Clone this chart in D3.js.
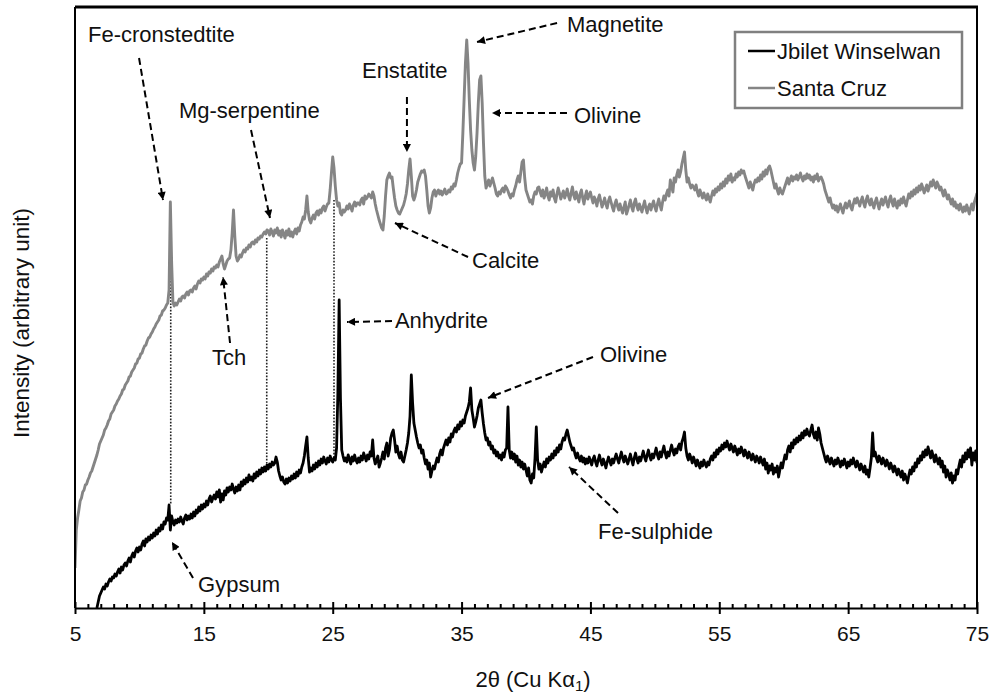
<!DOCTYPE html>
<html>
<head>
<meta charset="utf-8">
<script src="https://cdn.jsdelivr.net/npm/d3@7"></script>
<style>
  body { margin: 0; background: #fff; }
  svg text { font-family: "Liberation Sans", Arial, Helvetica, sans-serif; fill: #111; }
</style>
</head>
<body>
<svg id="chart" width="990" height="695"></svg>
<script>
// ---- Diffraction patterns (2θ sampled every 0.1°, intensity in arbitrary units) ----
const stepDeg = 0.1;
const santaCruzStart = 5.0;
const jbiletStart = 6.7;

const santaCruz = [
  40, 78, 90, 98, 107, 110, 116, 118, 123, 124,
  128, 131, 135, 137, 141, 145, 149, 153, 158, 164,
  167, 170, 173, 178, 180, 183, 187, 189, 194, 196,
  198, 202, 204, 207, 209, 212, 214, 218, 219, 223,
  225, 227, 231, 232, 236, 238, 240, 244, 245, 249,
  250, 254, 255, 259, 262, 263, 267, 270, 271, 274,
  276, 279, 281, 284, 286, 288, 292, 293, 297, 298,
  300, 303, 305, 318, 406, 345, 306, 302, 305, 303,
  306, 309, 307, 311, 312, 310, 314, 316, 313, 317,
  318, 316, 320, 322, 319, 324, 327, 325, 329, 328,
  331, 329, 334, 332, 336, 335, 339, 337, 341, 340,
  343, 341, 346, 349, 352, 344, 339, 343, 347, 349,
  350, 358, 375, 398, 372, 352, 347, 349, 353, 351,
  355, 358, 356, 360, 359, 363, 361, 365, 366, 364,
  368, 366, 370, 369, 372, 371, 374, 376, 374, 378,
  377, 373, 379, 376, 372, 378, 375, 380, 373, 377,
  371, 378, 374, 370, 377, 373, 379, 372, 376, 371,
  376, 379, 374, 380, 377, 383, 386, 391, 389, 398,
  412, 396, 388, 385, 390, 393, 389, 395, 397, 393,
  398, 395, 400, 402, 397, 401, 404, 405, 418, 435,
  451, 440, 422, 408, 402, 405, 395, 393, 398, 396,
  398, 402, 399, 404, 401, 397, 403, 406, 402, 405,
  405, 403, 408, 410, 404, 412, 409, 411, 414, 412,
  410, 416, 412, 404, 398, 393, 388, 384, 380, 378,
  392, 412, 428, 432, 435, 430, 431, 420, 410, 402,
  398, 395, 394, 397, 400, 403, 408, 414, 424, 438,
  449, 432, 412, 408, 412, 418, 426, 430, 434, 437,
  436, 438, 432, 418, 402, 395, 400, 410, 416, 418,
  412, 416, 418, 414, 417, 413, 416, 419, 414, 415,
  418, 416, 421, 419, 424, 422, 428, 435, 440, 444,
  445, 475, 510, 545, 568, 545, 508, 478, 458, 445,
  438, 452, 475, 505, 528, 532, 505, 465, 432, 420,
  424, 428, 422, 426, 430, 425, 420, 414, 412, 416,
  414, 418, 420, 416, 422, 420, 417, 413, 410, 414,
  412, 418, 422, 428, 432, 426, 436, 446, 448, 430,
  418, 414, 410, 406, 408, 404, 412, 416, 414, 420,
  421, 416, 412, 418, 410, 414, 420, 412, 408, 416,
  412, 418, 410, 406, 414, 420, 415, 409, 413, 417,
  410, 414, 419, 412, 408, 415, 421, 413, 409, 416,
  411, 406, 414, 418, 410, 404, 412, 417, 409, 413,
  416, 410, 405, 411, 408, 402, 409, 413, 407, 401,
  405, 410, 404, 400, 407, 411, 406, 401, 397, 404,
  408, 402, 398, 404, 399, 395, 401, 406, 394, 398,
  403, 408, 401, 397, 405, 409, 402, 398, 404, 400,
  396, 402, 407, 400, 395, 401, 404, 398, 403, 407,
  401, 397, 404, 409, 403, 398, 406, 412, 408, 414,
  418, 412, 428, 422, 416, 430, 426, 433, 438, 431,
  436, 444, 450, 456, 438, 426, 430, 424, 420, 423,
  421, 418, 423, 416, 412, 418, 414, 410, 415, 411,
  408, 414, 410, 406, 412, 417, 413, 419, 416, 421,
  418, 424, 420, 426, 422, 429, 425, 432, 428, 434,
  426, 430, 428, 434, 431, 436, 433, 438, 435, 437,
  432, 428, 424, 420, 426, 422, 418, 424, 428, 426,
  430, 427, 433, 429, 436, 432, 438, 434, 440, 442,
  438, 432, 426, 420, 424, 418, 414, 420, 416, 414,
  418, 422, 426, 430, 424, 428, 432, 427, 431, 429,
  433, 428, 431, 435, 430, 427, 432, 429, 434, 430,
  433, 428, 431, 426, 432, 429, 434, 427, 430, 431,
  428, 424, 418, 414, 410, 406, 410, 404, 400, 403,
  398, 402, 396, 400, 404, 399, 395, 401, 405, 400,
  403, 407, 401, 398, 404, 409, 405, 410, 406, 402,
  407, 411, 405, 401, 408, 412, 406, 403, 409, 404,
  400, 406, 410, 404, 399, 405, 409, 403, 407, 411,
  405, 401, 408, 412, 406, 402, 409, 404, 400, 407,
  403, 409, 405, 411, 406, 402, 408, 414, 410, 416,
  412, 418, 414, 420, 416, 422, 418, 424, 420, 415,
  419, 423, 417, 421, 426, 422, 428, 424, 420, 426,
  423, 418, 421, 416, 412, 418, 414, 409, 413, 408,
  404, 409, 402, 406, 400, 403, 398, 404, 400, 396,
  401, 397, 403, 399, 394, 400, 404, 398, 406, 410,
  415
];

const jbiletWinselwan = [
  0, 6, 12,
  15, 18, 21, 19, 24, 22, 26, 29, 27, 31,
  30, 34, 32, 36, 39, 35, 41, 38, 43, 45,
  42, 47, 50, 46, 52, 55, 51, 57, 60, 56,
  61, 58, 64, 67, 62, 69, 66, 71, 68, 73,
  70, 75, 72, 78, 74, 80, 77, 83, 79, 86,
  84, 90, 88, 103, 78, 92, 86, 83, 88, 85,
  89, 86, 91, 87, 84, 90, 93, 88, 92, 89,
  94, 90, 96, 92, 98, 95, 101, 97, 103, 99,
  104, 101, 107, 103, 109, 112, 106, 110, 113, 109,
  116, 111, 118, 106, 114, 108, 117, 113, 120, 116,
  121, 118, 124, 119, 115, 121, 117, 123, 118, 126,
  122, 128, 124, 130, 126, 133, 128, 131, 127, 134,
  130, 136, 132, 138, 134, 140, 136, 141, 137, 143,
  139, 144, 141, 146, 143, 145, 151, 146, 137, 132,
  128, 131, 126, 124, 129, 125, 130, 127, 132, 129,
  134, 130, 136, 132, 138, 135, 141, 145, 152, 162,
  171, 150, 136, 140, 137, 143, 139, 145, 141, 147,
  143, 149, 145, 151, 147, 144, 150, 146, 152, 148,
  146, 150, 148, 160, 215, 308, 210, 158, 152, 147,
  150, 146, 153, 149, 144, 151, 147, 153, 148, 145,
  150, 146, 152, 148, 155, 151, 147, 153, 149, 156,
  152, 168, 150, 144, 148, 152, 141, 145, 150, 156,
  149, 160, 165, 152, 158, 170, 175, 178, 168, 156,
  162, 154, 150, 156, 148, 146, 152, 158, 165, 175,
  192, 233, 205, 185, 178, 171, 165, 160, 163, 155,
  158, 150, 144, 148, 139, 145, 131, 137, 142, 139,
  145, 150, 146, 154, 158, 153, 160, 164, 168, 163,
  170, 166, 174, 171, 177, 180, 176, 183, 179, 186,
  182, 188, 185, 192, 196, 200, 206, 220, 198, 190,
  181, 186, 192, 200, 204, 208, 195, 184, 175, 168,
  170, 163, 166, 159, 162, 155, 158, 152, 156, 150,
  153, 148, 155, 151, 158, 160, 201, 158, 150, 156,
  149, 154, 146, 152, 143, 148, 141, 146, 139, 144,
  138, 132, 140, 128, 125, 134, 130, 150, 181, 148,
  139, 144, 136, 141, 146, 141, 149, 145, 151, 148,
  154, 150, 157, 153, 160, 156, 163, 159, 166, 170,
  168, 174, 178, 172, 166, 162, 158, 160, 154, 150,
  155, 150, 147, 152, 146, 150, 144, 149, 145, 151,
  147, 143, 149, 152, 146, 142, 148, 153, 147, 143,
  149, 145, 140, 146, 151, 147, 143, 149, 145, 150,
  154, 149, 145, 151, 156, 150, 146, 152, 148, 144,
  149, 154, 148, 143, 150, 155, 149, 145, 151, 147,
  152, 157, 151, 147, 153, 158, 152, 148, 154, 150,
  155, 160, 153, 149, 156, 151, 157, 162, 155, 150,
  156, 152, 158, 163, 157, 153, 159, 155, 161, 164,
  158, 166, 170, 176, 160, 152, 148, 154, 150, 145,
  151, 147, 142, 148, 144, 140, 146, 142, 148, 144,
  141, 146, 143, 149, 152, 148, 155, 151, 158, 154,
  160, 157, 163, 159, 165, 161, 167, 162, 158, 164,
  160, 156, 162, 158, 153, 159, 155, 161, 157, 152,
  158, 154, 150, 156, 152, 148, 154, 150, 146, 152,
  149, 145, 151, 147, 143, 149, 139, 145, 135, 142,
  138, 144, 134, 140, 136, 142, 131, 138, 145, 140,
  147, 153, 149, 158, 162, 156, 165, 160, 168, 164,
  170, 166, 172, 168, 175, 170, 177, 173, 179, 174,
  172, 178, 183, 174, 170, 176, 168, 180, 174, 165,
  160, 155, 150, 146, 152, 148, 144, 150, 146, 142,
  148, 144, 150, 146, 141, 147, 143, 149, 145, 140,
  146, 142, 148, 144, 150, 145, 141, 147, 143, 138,
  144, 140, 136, 142, 134, 138, 131, 140, 150, 175,
  152, 156, 150, 146, 152, 148, 144, 150, 146, 142,
  148, 144, 139, 145, 141, 136, 142, 138, 133, 139,
  135, 131, 137, 128, 134, 130, 125, 132, 138, 134,
  141, 137, 145, 141, 149, 145, 152, 148, 156, 151,
  158, 153, 161, 156, 150, 157, 152, 146, 153, 148,
  144, 150, 141, 147, 136, 142, 131, 138, 134, 128,
  135, 125, 132, 128, 138, 134, 142, 148, 141, 152,
  146, 155, 149, 158, 151, 160, 143, 155, 148, 157,
  145
];

const seriesNames = ["Jbilet Winselwan", "Santa Cruz"];
const seriesColors = ["#000000", "#858585"];
const xTickLabels = [5, 15, 25, 35, 45, 55, 65, 75];

// Shared reflections linking the two patterns (2θ, upper and lower intensity)
const sharedPeakPos = [12.43, 19.88, 25.1];
const sharedPeakTop = [343, 370, 408];
const sharedPeakBottom = [103, 138, 148];

// Phase labels: text anchor and arrow (tail -> head), all in (2θ, intensity)
const phaseNames = ["Fe-cronstedtite", "Mg-serpentine", "Tch", "Enstatite", "Magnetite",
  "Olivine", "Calcite", "Anhydrite", "Olivine", "Fe-sulphide", "Gypsum"];
const phaseLabelAt = [[6.01, 566], [13.07, 490], [15.63, 243], [27.27, 530], [43.18, 576],
  [43.72, 485], [35.81, 340], [29.83, 280], [45.74, 246], [45.59, 69], [14.55, 16]];
const phaseArrowFrom = [[9.97, 550], [18.66, 478], [17.03, 265], [30.76, 511], [42.41, 585],
  [43.18, 495], [35.5, 351], [29.6, 287], [45.2, 251], [47.14, 95], [14.16, 30]];
const phaseArrowTo = [[11.83, 408], [20.13, 390], [16.49, 331], [30.76, 456], [36.2, 566],
  [37.36, 495], [29.83, 385], [26.11, 286], [37.05, 210], [43.34, 141], [12.53, 66]];

// ---- Layout ----
const svg = d3.select("#chart");
const plotL = 75, plotR = 977, plotT = 7, plotB = 608;
const x = d3.scaleLinear().domain([5, 75]).range([plotL, plotR]);
const y = d3.scaleLinear().domain([0, 600]).range([plotB, plotT + 1]);

const toPoints = (vals, start) => vals.map((v, i) => [+(start + i * stepDeg).toFixed(2), v]);
const jbPts = toPoints(jbiletWinselwan, jbiletStart);
const scPts = toPoints(santaCruz, santaCruzStart);

const defs = svg.append("defs");
defs.append("clipPath").attr("id", "plotClip")
  .append("rect").attr("x", plotL).attr("y", plotT).attr("width", plotR - plotL).attr("height", plotB - plotT);

const line = d3.line().x(d => x(d[0])).y(d => y(d[1]));
const plot = svg.append("g").attr("clip-path", "url(#plotClip)");

// shared-peak dotted guides
plot.selectAll("line.guide").data(sharedPeakPos).join("line")
  .attr("class", "guide")
  .attr("x1", d => x(d)).attr("x2", d => x(d))
  .attr("y1", (d, i) => y(sharedPeakTop[i])).attr("y2", (d, i) => y(sharedPeakBottom[i]))
  .attr("stroke", "#222").attr("stroke-width", 1.6).attr("stroke-dasharray", "1.6,1.6");

plot.append("path").datum(scPts).attr("d", line)
  .attr("fill", "none").attr("stroke", seriesColors[1]).attr("stroke-width", 2.9)
  .attr("stroke-linejoin", "round");
plot.append("path").datum(jbPts).attr("d", line)
  .attr("fill", "none").attr("stroke", seriesColors[0]).attr("stroke-width", 2.8)
  .attr("stroke-linejoin", "round");

// ---- Frame and axes ----
svg.append("line").attr("x1", plotL).attr("x2", plotR + 1).attr("y1", plotT).attr("y2", plotT)
  .attr("stroke", "#000").attr("stroke-width", 3);
svg.append("line").attr("x1", plotR).attr("x2", plotR).attr("y1", plotT).attr("y2", plotB)
  .attr("stroke", "#000").attr("stroke-width", 2);
svg.append("line").attr("x1", plotL).attr("x2", plotL).attr("y1", plotT).attr("y2", plotB)
  .attr("stroke", "#000").attr("stroke-width", 2);

const minorTicks = d3.range(6, 75).filter(v => (v - 5) % 10 !== 0);
const minorAxis = svg.append("g").attr("transform", `translate(0,${plotB})`)
  .call(d3.axisBottom(x).tickValues(minorTicks).tickSize(-4).tickFormat(""));
minorAxis.select(".domain").remove();
minorAxis.selectAll("line").attr("stroke", "#000").attr("stroke-width", 2);

const xAxis = svg.append("g").attr("transform", `translate(0,${plotB})`)
  .call(d3.axisBottom(x).tickValues(xTickLabels).tickSize(6).tickSizeOuter(0).tickPadding(12));
xAxis.select(".domain").attr("stroke", "#000").attr("stroke-width", 2);
xAxis.selectAll(".tick line").attr("y1", -6).attr("y2", 6).attr("stroke", "#000").attr("stroke-width", 2);
xAxis.selectAll(".tick text").attr("font-size", 21).attr("fill", "#111")
  .style("font-family", "'Liberation Sans', Arial, sans-serif");

// axis titles
const xt = svg.append("text").attr("x", 533).attr("y", 687)
  .attr("text-anchor", "middle").attr("font-size", 22);
xt.append("tspan").text("2θ (Cu Kα");
xt.append("tspan").attr("font-size", 15).attr("dy", 4).text("1");
xt.append("tspan").attr("dy", -4).text(")");

svg.append("text").attr("transform", "translate(29,323) rotate(-90)")
  .attr("text-anchor", "middle").attr("font-size", 22.5).text("Intensity (arbitrary unit)");

// ---- Phase annotations ----
defs.append("marker").attr("id", "head")
  .attr("viewBox", "0 0 10 10").attr("refX", 10).attr("refY", 5)
  .attr("markerWidth", 9).attr("markerHeight", 8).attr("markerUnits", "userSpaceOnUse")
  .attr("orient", "auto")
  .append("path").attr("d", "M0,0 L10,5 L0,10 Z").attr("fill", "#000");

const ann = svg.append("g");
phaseNames.forEach((name, i) => {
  ann.append("line")
    .attr("x1", x(phaseArrowFrom[i][0])).attr("y1", y(phaseArrowFrom[i][1]))
    .attr("x2", x(phaseArrowTo[i][0])).attr("y2", y(phaseArrowTo[i][1]))
    .attr("stroke", "#000").attr("stroke-width", 2).attr("stroke-dasharray", "7,4")
    .attr("marker-end", "url(#head)");
  ann.append("text")
    .attr("x", x(phaseLabelAt[i][0])).attr("y", y(phaseLabelAt[i][1]))
    .attr("font-size", 22).text(name);
});

// ---- Legend ----
const lg = svg.append("g").attr("transform", "translate(735,32)");
lg.append("rect").attr("width", 227).attr("height", 76)
  .attr("fill", "#fff").attr("stroke", "#808080").attr("stroke-width", 2.5);
seriesNames.forEach((name, i) => {
  const cy = 19 + i * 37;
  lg.append("line").attr("x1", 13).attr("x2", 40).attr("y1", cy).attr("y2", cy)
    .attr("stroke", seriesColors[i]).attr("stroke-width", 2.5);
  lg.append("text").attr("x", 42).attr("y", cy).attr("dy", "0.35em")
    .attr("font-size", 22).text(name);
});
</script>
</body>
</html>
